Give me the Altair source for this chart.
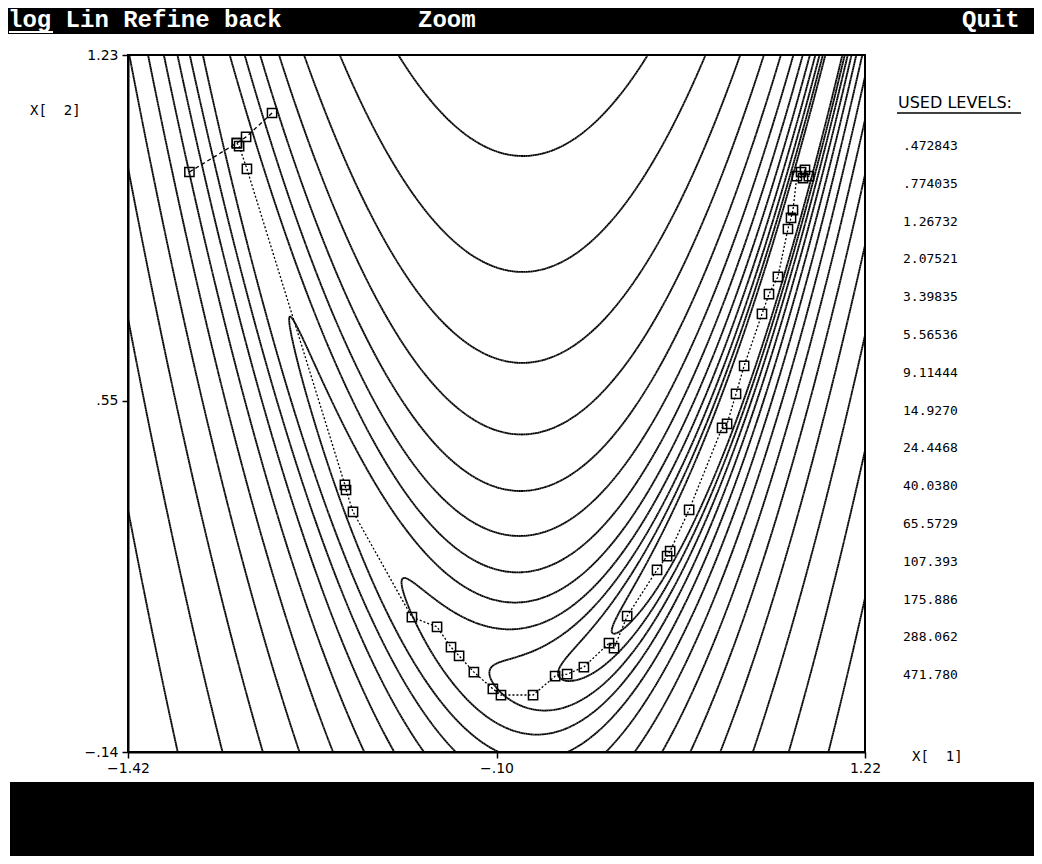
import numpy as np
import pandas as pd
import altair as alt

# ---------------- data ----------------
X_DOMAIN = [-1.42, 1.22]
Y_DOMAIN = [-0.14, 1.23]
X_TICKS = [-1.42, -0.10, 1.22]
Y_TICKS = [-0.14, 0.55, 1.23]

LEVEL_LABELS = [".472843", ".774035", "1.26732", "2.07521", "3.39835",
                "5.56536", "9.11444", "14.9270", "24.4468", "40.0380",
                "65.5729", "107.393", "175.886", "288.062", "471.780"]
LEVELS = [float(s) for s in LEVEL_LABELS]

# first (dashed) search line from the start point
LINE_X = [-1.200, -1.030, -0.997, -0.904]
LINE_Y = [1.000, 1.057, 1.069, 1.116]

# iterates (dotted trace)
PATH_X = [-1.030, -1.022, -0.994, -0.643, -0.639, -0.614, -0.403, -0.313,
          -0.263, -0.234, -0.181, -0.113, -0.084, 0.031, 0.110, 0.153,
          0.213, 0.303, 0.321, 0.368, 0.475, 0.511, 0.522, 0.590, 0.708,
          0.726, 0.758, 0.787, 0.851, 0.876, 0.908, 0.944, 0.955, 0.962,
          0.976, 0.998, 1.019, 1.005, 0.991]
PATH_Y = [1.057, 1.051, 1.006, 0.385, 0.375, 0.332, 0.125, 0.106,
          0.066, 0.049, 0.017, -0.016, -0.028, -0.028, 0.009, 0.013,
          0.027, 0.074, 0.064, 0.127, 0.218, 0.245, 0.255, 0.336, 0.497,
          0.505, 0.564, 0.619, 0.721, 0.760, 0.794, 0.888, 0.910, 0.925,
          0.992, 0.988, 0.992, 1.004, 1.000]

MENU_LEFT = "log Lin Refine back"
MENU_MID = "Zoom"
MENU_RIGHT = "Quit"
LEVELS_TITLE = "USED LEVELS:"
X_TITLE = "X[\u00a0\u00a01]"
Y_TITLE = "X[\u00a0\u00a02]"


# ---------------- contour lines of the objective ----------------
def rosenbrock(x1, x2):
    return 100.0 * (x2 - x1 ** 2) ** 2 + (1.0 - x1) ** 2


def contour_segments(Z, gx, gy, level):
    v0 = Z[:-1, :-1]
    v1 = Z[:-1, 1:]
    v2 = Z[1:, 1:]
    v3 = Z[1:, :-1]
    shape = v0.shape
    xa = gx[None, :-1]
    xb = gx[None, 1:]
    ya = gy[:-1, None]
    yb = gy[1:, None]

    def crossing(a, b):
        m = (a - level) * (b - level) < 0
        d = np.where(m, b - a, 1.0)
        t = np.where(m, (level - a) / d, 0.0)
        return m, t

    mb, tb = crossing(v0, v1)
    mr, tr = crossing(v1, v2)
    mt, tt = crossing(v3, v2)
    ml, tl = crossing(v0, v3)
    ex = np.stack([np.broadcast_to(xa + tb * (xb - xa), shape),
                   np.broadcast_to(xb, shape),
                   np.broadcast_to(xa + tt * (xb - xa), shape),
                   np.broadcast_to(xa, shape)])
    ey = np.stack([np.broadcast_to(ya, shape),
                   np.broadcast_to(ya + tr * (yb - ya), shape),
                   np.broadcast_to(yb, shape),
                   np.broadcast_to(ya + tl * (yb - ya), shape)])
    M = np.stack([mb, mr, mt, ml])
    cnt = M.sum(axis=0)
    order = np.argsort(~M, axis=0, kind="stable")
    out = []
    for a, b, need in ((0, 1, 2), (2, 3, 4)):
        sel = cnt >= need
        ia = order[a:a + 1]
        ib = order[b:b + 1]
        X0 = np.take_along_axis(ex, ia, 0)[0][sel]
        Y0 = np.take_along_axis(ey, ia, 0)[0][sel]
        X1 = np.take_along_axis(ex, ib, 0)[0][sel]
        Y1 = np.take_along_axis(ey, ib, 0)[0][sel]
        out.append(np.column_stack([X0, Y0, X1, Y1]))
    return np.vstack(out)


gx = np.linspace(X_DOMAIN[0], X_DOMAIN[1], 420)
gy = np.linspace(Y_DOMAIN[0], Y_DOMAIN[1], 400)
GX, GY = np.meshgrid(gx, gy)
Z = rosenbrock(GX, GY)
segs = np.vstack([contour_segments(Z, gx, gy, lv) for lv in LEVELS])
seg_df = pd.DataFrame(np.round(segs, 5), columns=["x", "y", "x2", "y2"])

line_df = pd.DataFrame({"x": LINE_X, "y": LINE_Y, "i": range(len(LINE_X))})
path_df = pd.DataFrame({"x": PATH_X, "y": PATH_Y, "i": range(len(PATH_X))})
pts_df = pd.concat([line_df, path_df], ignore_index=True)

# ---------------- layout ----------------
L, T = 128, 55          # page position of plot area's top-left corner
W, H = 737, 697         # plot area
PAD = {"left": L - 8, "top": T - 8, "right": 1034 - (L + W), "bottom": 856 - (T + H)}

xs = alt.Scale(domain=X_DOMAIN, nice=False, zero=False)
ys = alt.Scale(domain=Y_DOMAIN, nice=False, zero=False)
label_expr = "replace(format(datum.value, '.2f'), '0.', '.')"
axis_common = dict(title=None, grid=False, tickSize=6, tickColor="black",
                   tickWidth=1.5, domainColor="black", domainWidth=2,
                   labelFont="DejaVu Sans", labelFontSize=14,
                   labelColor="black", labelExpr=label_expr,
                   labelFlush=False, labelOverlap=False)
xaxis = alt.Axis(values=X_TICKS, labelPadding=3, **axis_common)
yaxis = alt.Axis(values=Y_TICKS, labelPadding=4, **axis_common)

contours = alt.Chart(seg_df).mark_rule(color="black", strokeWidth=1.8).encode(
    x=alt.X("x:Q", scale=xs, axis=xaxis),
    y=alt.Y("y:Q", scale=ys, axis=yaxis),
    x2="x2:Q", y2="y2:Q")

first_line = alt.Chart(line_df).mark_line(
    color="black", strokeWidth=1.3, strokeDash=[4, 3]).encode(
    x="x:Q", y="y:Q", order="i:Q")

trace = alt.Chart(path_df).mark_line(
    color="black", strokeWidth=1.3, strokeDash=[2, 2]).encode(
    x="x:Q", y="y:Q", order="i:Q")

squares = alt.Chart(pts_df).mark_point(
    shape="square", filled=False, size=85, color="black",
    strokeWidth=1.5, opacity=1).encode(x="x:Q", y="y:Q")

one = pd.DataFrame({"k": [0]})


def txt(s, px, py, **kw):
    return alt.Chart(one).mark_text(text=s, **kw).encode(
        x=alt.value(px - L), y=alt.value(py - T))


def box(px0, px1, py0, py1, color="black"):
    return alt.Chart(one).mark_rect(color=color).encode(
        x=alt.value(px0 - L), x2=alt.value(px1 - L),
        y=alt.value(py0 - T), y2=alt.value(py1 - T))


def hline(px0, px1, py, color="black", w=1.5):
    return alt.Chart(one).mark_rule(color=color, strokeWidth=w).encode(
        x=alt.value(px0 - L), x2=alt.value(px1 - L), y=alt.value(py - T))


menu_font = dict(font="Liberation Mono", fontWeight="bold", fontSize=24,
                 color="white", align="left", baseline="middle")
small = dict(font="DejaVu Sans Mono", fontSize=13, color="black",
             align="left", baseline="middle")

decor = [
    box(8, 1034, 8, 34),
    txt(MENU_LEFT, 8, 20, **menu_font),
    hline(9, 53, 32, color="white", w=2),
    txt(MENU_MID, 418, 20, **menu_font),
    txt(MENU_RIGHT, 962, 20, **menu_font),
    box(10, 1034, 782, 856),
    txt(Y_TITLE, 30, 111, **{**small, "fontSize": 14}),
    txt(X_TITLE, 912, 757, **{**small, "fontSize": 14}),
    txt(LEVELS_TITLE, 898, 103, font="DejaVu Sans", fontSize=16,
        color="black", align="left", baseline="middle"),
    hline(897, 1021, 113, w=1.5),
]
for i, s in enumerate(LEVEL_LABELS):
    decor.append(txt(s, 903, 146 + i * 37.8, **small))

chart = alt.layer(contours, first_line, trace, squares, *decor).properties(
    width=W, height=H,
    autosize=alt.AutoSizeParams(type="none"),
    padding=PAD,
).configure_view(stroke="black", strokeWidth=2)

chart.save("out.html", embed_options={"renderer": "svg", "actions": False})
